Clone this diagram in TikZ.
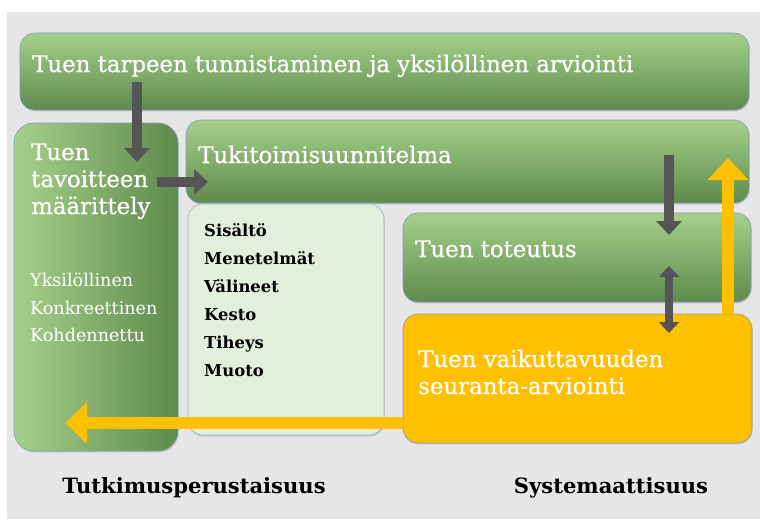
\documentclass[tikz,border=0pt]{standalone}
\usepackage{fontspec}
\setmainfont{DejaVu Serif}
\newfontfamily\wfont{DejaVu Serif}[FakeBold=0.7]
\usepackage{tikz}
\usetikzlibrary{arrows.meta,shadows,fit}
\definecolor{bggray}{HTML}{E6E6E6}
\definecolor{grlight}{HTML}{A6D08A}
\definecolor{grdark}{HTML}{5E8A4C}
\definecolor{boxline}{HTML}{7F9CC0}
\definecolor{paleg}{HTML}{E2EFDA}
\definecolor{gold}{HTML}{FFC000}
\definecolor{arrgray}{HTML}{555555}

\begin{document}
\begin{tikzpicture}[x=0.3mm, y=-0.3mm,
  box/.style={draw=boxline, line width=0.5pt, inner sep=0pt, rounded corners=4.5mm,
    drop shadow={shadow xshift=0.6pt, shadow yshift=-1.2pt, opacity=0.35}},
  vgreen/.style={box, top color=grlight, bottom color=grdark},
  hgreen/.style={box, left color=grlight, right color=grdark, rounded corners=6mm},
  wtext/.style={anchor=base west, inner sep=0pt, text=white, font=\wfont\fontsize{19.5}{22}\selectfont},
  wsmall/.style={wtext, font=\fontsize{15}{18}\selectfont},
  btext/.style={anchor=base west, inner sep=0pt, text=black, font=\fontsize{14}{18}\selectfont\bfseries},
  ltext/.style={anchor=base, inner sep=0pt, text=black, font=\fontsize{18}{22}\selectfont\bfseries},
  grayarr/.style={draw=arrgray, line width=3mm, -{Triangle[length=4.2mm, width=7.5mm]}},
  goldarr/.style={draw=gold, line width=3.8mm, -{Triangle[length=6.6mm, width=12mm]}}]
\useasboundingbox (0,0) rectangle (760,519);
\fill[bggray] (7,12) rectangle (760,519);
%%%%% Boxes %%%%%
\node[vgreen, fit={(20,33) (749,110)}] (need) {};
\node[hgreen, fit={(14,123) (178,451)}] (goal) {};
\node[vgreen, fit={(186,120) (749,203)}] (plan) {};
\node[box, fill=paleg, draw=boxline!80, fit={(188,204) (384,435)}] (content) {};
\node[vgreen, fit={(403,213) (751,302)}] (impl) {};
\node[box, fill=gold, fit={(403,314) (752,443)}] (eval) {};
%%%%% Texts %%%%%
\node[wtext] (needtxt) at (32,72) {Tuen tarpeen tunnistaminen ja yksilöllinen arviointi};
\node[wtext] (goal1) at (31,160) {Tuen};
\node[wtext] (goal2) at (31,187) {tavoitteen};
\node[wtext] (goal3) at (31,214) {määrittely};
\node[wsmall] (crit1) at (30,286) {Yksilöllinen};
\node[wsmall] (crit2) at (30,314) {Konkreettinen};
\node[wsmall] (crit3) at (30,341) {Kohdennettu};
\node[wtext] (plantxt) at (198,163) {Tukitoimisuunnitelma};
\node[btext] (c1) at (204,236) {Sisältö};
\node[btext] (c2) at (204,264) {Menetelmät};
\node[btext] (c3) at (204,292) {Välineet};
\node[btext] (c4) at (204,320) {Kesto};
\node[btext] (c5) at (204,348) {Tiheys};
\node[btext] (c6) at (204,376) {Muoto};
\node[wtext] (impltxt) at (415,257) {Tuen toteutus};
\node[wtext] (eval1) at (418,367) {Tuen vaikuttavuuden};
\node[wtext] (eval2) at (418,394) {seuranta-arviointi};
\node[ltext] (research) at (194,493) {Tutkimusperustaisuus};
\node[ltext] (system) at (611,493) {Systemaattisuus};
%%%%% Arrows %%%%%
\coordinate (a1) at (137,82);
\coordinate (a2) at (137,162);
\coordinate (b1) at (157,182);
\coordinate (b2) at (208,182);
\coordinate (c1s) at (669,155);
\coordinate (c1e) at (669,235);
\coordinate (d1) at (669,266);
\coordinate (d2) at (669,333);
\coordinate (up) at (728,158);
\coordinate (left) at (65,423);
\draw[grayarr] (a1) -- (a2);
\draw[grayarr] (b1) -- (b2);
\draw[grayarr] (c1s) -- (c1e);
\draw[grayarr, line width=2.5mm, {Triangle[length=3.3mm, width=6mm]}-{Triangle[length=3.3mm, width=6mm]}] (d1) -- (d2);
\draw[goldarr] (eval.north -| up) -- (up);
\draw[goldarr] (eval.west |- left) -- (left);
\end{tikzpicture}
\end{document}
